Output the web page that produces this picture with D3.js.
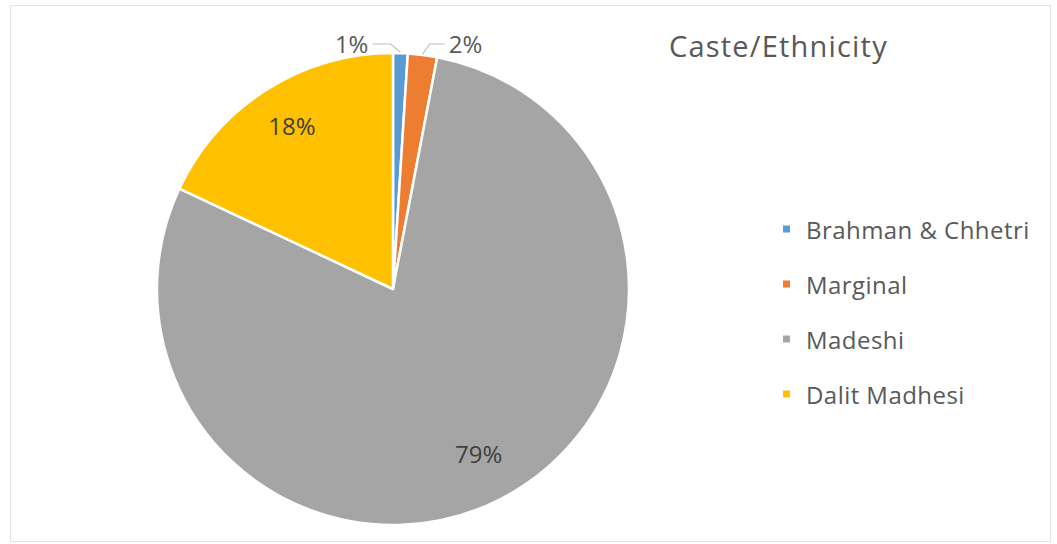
<!DOCTYPE html>
<html>
<head>
<meta charset="utf-8">
<script src="https://cdn.jsdelivr.net/npm/d3@7"></script>
<style>
  html, body { margin: 0; padding: 0; background: #ffffff; }
  svg { display: block; font-family: "Open Sans", "Liberation Sans", sans-serif; }
</style>
</head>
<body>
<svg id="chart" width="1057" height="544"></svg>
<script>
// Caste/Ethnicity shares (percent)
const categories = ["Brahman & Chhetri", "Marginal", "Madeshi", "Dalit Madhesi"];
const shares = [1, 2, 79, 18];
const colors = ["#5B9BD5", "#ED7D31", "#A5A5A5", "#FFC000"];
const chartTitle = "Caste/Ethnicity";

const svg = d3.select("#chart");

// Chart area frame
svg.append("rect")
  .attr("x", 10.5).attr("y", 5.5)
  .attr("width", 1040).attr("height", 536)
  .attr("fill", "#ffffff")
  .attr("stroke", "#e3e3e3")
  .attr("stroke-width", 1);

const cx = 393, cy = 289, R = 236;

const data = categories.map((c, i) => ({ name: c, value: shares[i], color: colors[i] }));

const pie = d3.pie().value(d => d.value).sort(null);
const arcs = pie(data);
const arc = d3.arc().innerRadius(0).outerRadius(R);
const labelArc = d3.arc().innerRadius(R * 0.8).outerRadius(R * 0.8);

const g = svg.append("g").attr("transform", `translate(${cx},${cy})`);

g.selectAll("path.slice")
  .data(arcs)
  .join("path")
  .attr("class", "slice")
  .attr("d", arc)
  .attr("fill", d => d.data.color)
  .attr("stroke", "#ffffff")
  .attr("stroke-width", 2.5)
  .attr("stroke-linejoin", "round");

const fmt = d => d3.format(".0f")(d.data.value) + "%";

// Large slices: label inside along the mid-angle
const inside = arcs.filter(d => d.data.value >= 5);
g.selectAll("text.inside")
  .data(inside)
  .join("text")
  .attr("class", "inside")
  .attr("x", d => labelArc.centroid(d)[0])
  .attr("y", d => labelArc.centroid(d)[1] - 4)
  .attr("text-anchor", "middle")
  .attr("dominant-baseline", "central")
  .attr("font-size", 24)
  .attr("fill", "#404040")
  .text(fmt);

// Small slices: callout above the pie with a leader line
const outside = arcs.filter(d => d.data.value < 5);
const elbowY = -R - 9;
outside.forEach((d, i) => {
  const mid = (d.startAngle + d.endAngle) / 2;
  const side = i % 2 === 0 ? -1 : 1;
  const px = Math.sin(mid) * (R + 1);
  const py = -Math.cos(mid) * (R + 1);
  const ex = px + (side < 0 ? -10 : 7);
  const hx = ex + side * (side < 0 ? 18 : 15);
  g.append("polyline")
    .attr("points", `${px},${py} ${ex},${elbowY} ${hx},${elbowY}`)
    .attr("fill", "none")
    .attr("stroke", "#bfbfbf")
    .attr("stroke-width", 1.2);
  g.append("text")
    .attr("x", hx + side * 4)
    .attr("y", elbowY - 1)
    .attr("text-anchor", side < 0 ? "end" : "start")
    .attr("dominant-baseline", "central")
    .attr("font-size", 24)
    .attr("fill", "#595959")
    .text(fmt(d));
});

// Title
svg.append("text")
  .attr("x", 669)
  .attr("y", 57)
  .attr("font-size", 29)
  .attr("letter-spacing", 1.2)
  .attr("fill", "#595959")
  .text(chartTitle);

// Legend
const legendY = d3.scalePoint().domain(categories).range([229, 394]);
const legend = svg.append("g").selectAll("g")
  .data(data)
  .join("g")
  .attr("transform", d => `translate(783,${legendY(d.name)})`);

legend.append("rect")
  .attr("x", 0).attr("y", -3.5)
  .attr("width", 7).attr("height", 7)
  .attr("fill", d => d.color);

legend.append("text")
  .attr("x", 23)
  .attr("y", 0)
  .attr("dominant-baseline", "central")
  .attr("font-size", 24)
  .attr("letter-spacing", 0.45)
  .attr("fill", "#595959")
  .text(d => d.name);
</script>
</body>
</html>
